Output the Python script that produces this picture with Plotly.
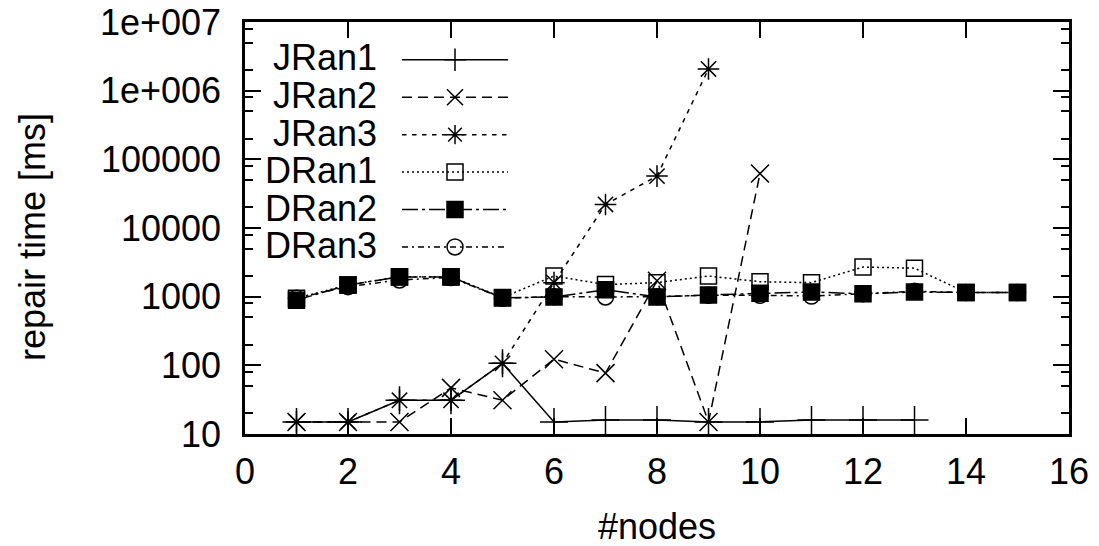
import plotly.graph_objects as go

# ---- data ----
nodes_j1 = [1, 2, 3, 4, 5, 6, 7, 8, 9, 10, 11, 12, 13]
jran1 = [15, 15, 31, 31, 107, 15, 16, 16, 15, 15, 16, 16, 16]
nodes_j2 = [1, 2, 3, 4, 5, 6, 7, 8, 9, 10]
jran2 = [15, 15, 15, 47, 31, 123, 77, 1700, 15, 62000]
nodes_j3 = [1, 2, 3, 4, 5, 6, 7, 8, 9]
jran3 = [15, 15, 31, 31, 107, 1600, 22000, 57000, 2070000]
nodes_d = [1, 2, 3, 4, 5, 6, 7, 8, 9, 10, 11, 12, 13, 14, 15]
dran1 = [950, 1480, 1950, 1950, 970, 2000, 1500, 1600, 2000, 1650, 1600, 2700, 2600, 1150, 1150]
dran2 = [890, 1480, 1940, 1940, 960, 990, 1260, 990, 1060, 1120, 1170, 1100, 1170, 1150, 1150]
dran3 = [950, 1400, 1750, 1900, 950, 1000, 990, 1000, 1050, 1050, 1020, 1100, 1200, 1150, 1150]

series_names = ["JRan1", "JRan2", "JRan3", "DRan1", "DRan2", "DRan3"]
x_ticks = [0, 2, 4, 6, 8, 10, 12, 14, 16]
y_ticks = [10, 100, 1000, 10000, 100000, 1000000, 10000000]
y_tick_labels = ["10", "100", "1000", "10000", "100000", "1e+006", "1e+007"]
y_minor = [m * 10 ** e for e in range(1, 7) for m in (2, 5, 8)]

FONT = "Liberation Sans, Arial, sans-serif"
FS = 36

styles = [
    dict(dash="solid", symbol="cross-thin-open", size=20),
    dict(dash="10px,6px", symbol="x-thin-open", size=18),
    dict(dash="4.5px,5.5px", symbol="asterisk-open", size=18),
    dict(dash="2px,3px", symbol="square-open", size=16),
    dict(dash="16px,4px,3px,4px", symbol="square", size=16),
    dict(dash="6px,4px,2px,4px", symbol="circle-open", size=16),
]
xs = [nodes_j1, nodes_j2, nodes_j3, nodes_d, nodes_d, nodes_d]
ys = [jran1, jran2, jran3, dran1, dran2, dran3]

fig = go.Figure()
for name, x, y, st in zip(series_names, xs, ys, styles):
    fig.add_trace(go.Scatter(
        x=x, y=y, name=name, mode="lines+markers",
        line=dict(color="black", width=1.5, dash=st["dash"]),
        marker=dict(symbol=st["symbol"], size=st["size"], color="black",
                    line=dict(color="black", width=1.5)),
    ))

W, H = 1099, 546
L, T = 245, 22
pw, ph = 824, 412
R, B = W - L - pw, H - T - ph

def px_x(p):  # p: pixel in the figure
    return (p - L) / pw

def px_y(p):
    return 1 - (p - T) / ph

row_centers = [58, 95.5, 133, 170.5, 208, 245.5]
annotations = []
for name, yc in zip(series_names, row_centers):
    annotations.append(dict(
        text=name, xref="paper", yref="paper", x=px_x(379), y=px_y(yc),
        xanchor="right", yanchor="middle", showarrow=False,
        font=dict(family=FONT, size=FS, color="black")))
annotations.append(dict(
    text="#nodes", xref="paper", yref="paper", x=px_x(657), y=px_y(526),
    xanchor="center", yanchor="middle", showarrow=False,
    font=dict(family=FONT, size=FS, color="black")))
annotations.append(dict(
    text="repair time [ms]", xref="paper", yref="paper", x=px_x(32), y=px_y(237),
    xanchor="center", yanchor="middle", showarrow=False, textangle=-90,
    font=dict(family=FONT, size=FS, color="black")))

fig.update_layout(
    template="none",
    width=W, height=H,
    margin=dict(l=L, r=R, t=T, b=B, pad=0, autoexpand=False),
    paper_bgcolor="white", plot_bgcolor="white",
    font=dict(family=FONT, size=FS, color="black"),
    showlegend=True,
    legend=dict(
        x=px_x(397), y=px_y(36), xanchor="left", yanchor="top",
        bgcolor="rgba(0,0,0,0)", borderwidth=0,
        itemwidth=106, tracegroupgap=0,
        font=dict(family=FONT, size=26.5, color="rgba(0,0,0,0)"),
    ),
    annotations=annotations,
)
fig.update_xaxes(
    range=[0, 16], tickmode="array", tickvals=x_ticks, automargin=False,
    ticks="inside", ticklen=16, tickwidth=2, tickcolor="black",
    showline=True, linewidth=2.5, linecolor="black", mirror="ticks",
    showgrid=False, zeroline=False, ticklabelstandoff=4,
    ticklabeloverflow="allow",
    tickfont=dict(family=FONT, size=FS, color="black"),
)
fig.update_yaxes(
    type="log", range=[1, 7], tickmode="array", tickvals=y_ticks,
    ticktext=y_tick_labels, automargin=False,
    ticks="inside", ticklen=16, tickwidth=2, tickcolor="black",
    minor=dict(tickmode="array", tickvals=y_minor, ticks="inside",
               ticklen=8, tickwidth=2, tickcolor="black", showgrid=False),
    showline=True, linewidth=2.5, linecolor="black", mirror="ticks",
    showgrid=False, zeroline=False, ticklabelstandoff=14,
    ticklabeloverflow="allow",
    tickfont=dict(family=FONT, size=FS, color="black"),
)

# remove the page's default 8px body margin so the figure sits at the window origin
fig.write_html("out.html",
               config={"displayModeBar": False},
               post_script="document.body.style.margin='0';document.body.style.overflow='hidden';")
